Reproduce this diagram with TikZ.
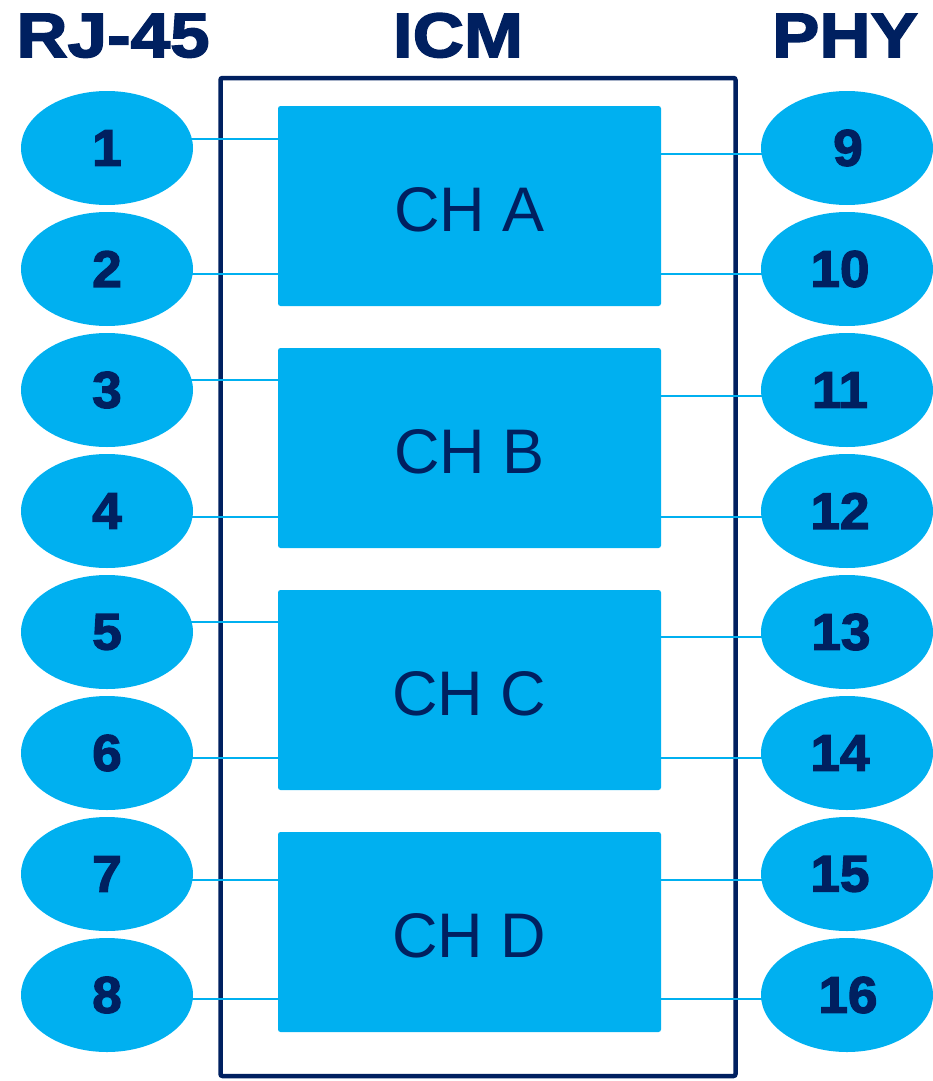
\documentclass[tikz,border=0pt]{standalone}
\usepackage{fontspec}
\usetikzlibrary{shapes.geometric,calc}
\setmainfont{Liberation Sans}
\newfontfamily\hfont[FakeStretch=1.13, BoldFeatures={FakeBold=2.5}]{Liberation Sans}
\newfontfamily\dfont[FakeStretch=1.03, BoldFeatures={FakeBold=2.5}]{Liberation Sans}
\definecolor{navy}{HTML}{002060}
\definecolor{lblue}{HTML}{00B0F0}
\pgfdeclarelayer{wires}
\pgfdeclarelayer{frame}
\pgfsetlayers{frame,wires,main}
\tikzset{
  heading/.style={anchor=base, text=navy, inner sep=0pt, font=\hfont\bfseries\fontsize{62.8}{70}\selectfont},
  pin/.style={ellipse, fill=lblue, minimum width=172pt, minimum height=114pt, inner sep=0pt, text=navy, font=\dfont\bfseries\fontsize{51.5}{60}\selectfont},
  chbox/.style={rectangle, rounded corners=2.5pt, fill=lblue, minimum width=383pt, minimum height=200pt, inner sep=0pt, text height=50pt, text depth=0pt, text=navy, font=\fontsize{63}{70}\selectfont},
  wire/.style={draw=lblue, line width=2pt},
  outer/.style={draw=navy, line width=4.5pt, rounded corners=2pt}
}
\begin{document}
\begin{tikzpicture}[x=1pt, y=-1pt]
\useasboundingbox (0,0) rectangle (932,1081);
% headings
\node[heading] (hrj) at (113,57) {RJ-45};
\node[heading] (hicm) at (458,57) {ICM};
\node[heading] (hphy) at (845,57) {PHY};
% outer ICM box
\begin{pgfonlayer}{frame}
\draw[outer] (220.5,78) rectangle (735.5,1076);
\end{pgfonlayer}
% channel boxes
\node[chbox] (chA) at (469.5,206) {CH A};
\node[chbox] (chB) at (469.5,448) {CH B};
\node[chbox] (chC) at (469.5,690) {CH C};
\node[chbox] (chD) at (469.5,932) {CH D};
% left pins
\foreach \n/\y in {1/148,2/269,3/390,4/511,5/632,6/753,7/874,8/995}{
  \node[pin] (p\n) at (107,\y) {\n};
}
% right pins
\foreach \n/\y/\tx in {9/148/1,10/269/-7,11/390/-7,12/511/-7,13/632/-6,14/753/-7,15/874/-7,16/995/1}{
  \node[pin] (p\n) at (847,\y) {\hspace*{\tx pt}\n\hspace*{-\tx pt}};
}
% wires
\begin{pgfonlayer}{wires}
\foreach \p/\c/\dy in {1/chA/-67,2/chA/68,3/chB/-68,4/chB/69,5/chC/-68,6/chC/68,7/chD/-52,8/chD/67}{
  \coordinate (l\p) at ($(\c.center)+(0,\dy)$);
  \draw[wire] (p\p.center |- l\p) -- (\c.west |- l\p);
}
\foreach \p/\c/\dy in {9/chA/-52,10/chA/68,11/chB/-52,12/chB/69,13/chC/-53,14/chC/68,15/chD/-52,16/chD/67}{
  \coordinate (r\p) at ($(\c.center)+(0,\dy)$);
  \draw[wire] (\c.east |- r\p) -- (p\p.center |- r\p);
}
\end{pgfonlayer}
\end{tikzpicture}
\end{document}
